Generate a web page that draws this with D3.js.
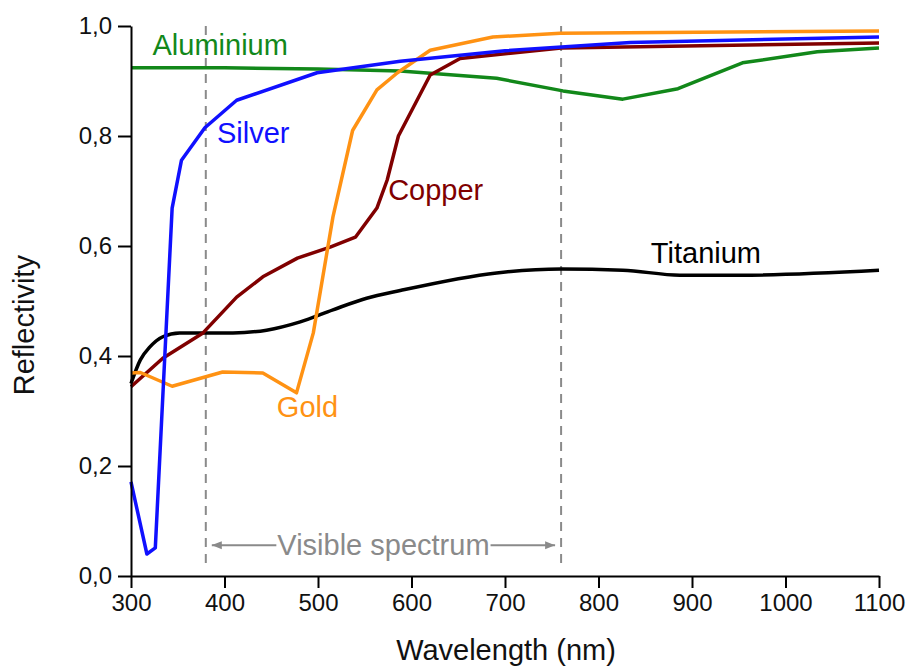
<!DOCTYPE html>
<html>
  <head>
    <title>Reflectivity of metals</title>
    <script src="https://d3js.org/d3.v7.min.js"></script>
    <style>
      body { margin: 0; background: #fff; }
      text { font-family: "Liberation Sans", Arial, sans-serif; }
    </style>
  </head>
  <body>
    <svg id="chart" width="909" height="666"></svg>
  </body>
  <script type="text/javascript">
    // wavelength (nm), reflectivity
    var silver = [[300,0.171],[317,0.04],[326,0.051],[344,0.669],[354,0.756],[379,0.815],[413,0.865],
                  [499,0.915],[588,0.936],[700,0.955],[834,0.97],[1100,0.98]];
    var aluminium = [[300,0.924],[400,0.924],[500,0.922],[588,0.918],[691,0.905],[762,0.882],[826,0.867],
                     [885,0.886],[954,0.933],[1034,0.953],[1100,0.96]];
    var gold = [[300,0.369],[310,0.37],[344,0.345],[398,0.371],[441,0.369],[477,0.333],[495,0.442],
                [516,0.653],[537,0.81],[563,0.884],[585,0.915],[620,0.956],[687,0.98],[759,0.987],[1100,0.991]];
    var copper = [[300,0.344],[334,0.396],[377,0.442],[413,0.507],[441,0.544],[478,0.578],[513,0.598],
                  [540,0.616],[563,0.669],[574,0.72],[586,0.8],[620,0.911],[652,0.941],[760,0.96],[1100,0.969]];
    var titanium = [[300,0.35],[310,0.393],[320,0.416],[334,0.435],[352,0.442],[374,0.442],[409,0.442],
                    [445,0.447],[481,0.462],[516,0.484],[552,0.505],[588,0.519],[691,0.551],[760,0.558],
                    [826,0.556],[887,0.547],[951,0.547],[1100,0.556]];

    var series = [
      {name: "Aluminium", values: aluminium, color: "#12881a", label: [323, 0.947]},
      {name: "Titanium", values: titanium, color: "#000000", label: [856, 0.569], smooth: true},
      {name: "Copper", values: copper, color: "#800000", label: [575, 0.684]},
      {name: "Gold", values: gold, color: "#ff9213", label: [456, 0.289]},
      {name: "Silver", values: silver, color: "#1010ff", label: [392, 0.787]}
    ];
    var visibleRange = [380, 760];

    var svg = d3.select("#chart");
    var x = d3.scaleLinear().domain([300, 1100]).range([131, 879]);
    var y = d3.scaleLinear().domain([0, 1]).range([576, 26]);

    // dashed visible-range lines
    svg.selectAll("line.vis")
      .data(visibleRange)
      .enter().append("line")
        .attr("class", "vis")
        .attr("x1", function(d){ return x(d); })
        .attr("x2", function(d){ return x(d); })
        .attr("y1", y(1))
        .attr("y2", y(0.015))
        .attr("stroke", "#8a8a8a")
        .attr("stroke-width", 2)
        .attr("stroke-dasharray", "9,7");

    // curves
    series.forEach(function(s){
      var line = d3.line()
        .x(function(d){ return x(d[0]); })
        .y(function(d){ return y(d[1]); })
        .curve(s.smooth ? d3.curveMonotoneX : d3.curveLinear);
      svg.append("path")
        .datum(s.values)
        .attr("d", line)
        .attr("fill", "none")
        .attr("stroke", s.color)
        .attr("stroke-width", 3.5)
        .attr("stroke-linejoin", "round");
    });

    svg.selectAll("text.lbl")
      .data(series)
      .enter().append("text")
        .attr("class", "lbl")
        .attr("x", function(d){ return x(d.label[0]); })
        .attr("y", function(d){ return y(d.label[1]); })
        .attr("fill", function(d){ return d.color; })
        .style("font-size", "29px")
        .text(function(d){ return d.name; });

    // visible spectrum arrow
    svg.append("defs").append("marker")
        .attr("id", "arr")
        .attr("viewBox", "0 0 10 10")
        .attr("refX", 10).attr("refY", 5)
        .attr("markerWidth", 5).attr("markerHeight", 5)
        .attr("orient", "auto-start-reverse")
        .attr("markerUnits", "strokeWidth")
      .append("path")
        .attr("d", "M0,1 L10,5 L0,9 Z")
        .attr("fill", "#8a8a8a");

    var arrowY = y(0.056);
    var vtxt = svg.append("text")
        .attr("x", x(570))
        .attr("y", arrowY)
        .attr("dy", "0.35em")
        .attr("text-anchor", "middle")
        .attr("fill", "#8a8a8a")
        .style("font-size", "29px")
        .text("Visible spectrum");
    var bb = vtxt.node().getBBox();
    svg.append("line")
        .attr("x1", bb.x - 1).attr("x2", x(visibleRange[0]) + 6)
        .attr("y1", arrowY).attr("y2", arrowY)
        .attr("stroke", "#8a8a8a").attr("stroke-width", 2)
        .attr("marker-end", "url(#arr)");
    svg.append("line")
        .attr("x1", bb.x + bb.width + 1).attr("x2", x(visibleRange[1]) - 6)
        .attr("y1", arrowY).attr("y2", arrowY)
        .attr("stroke", "#8a8a8a").attr("stroke-width", 2)
        .attr("marker-end", "url(#arr)");

    // axes
    var fmt = function(d){ return d3.format(".1f")(d).replace(".", ","); };

    var gx = svg.append("g").attr("transform", "translate(0," + y(0) + ")");
    gx.call(d3.axisBottom(x).tickValues(d3.range(350, 1100, 100)).tickSize(7).tickFormat(""));
    gx.call(d3.axisBottom(x).tickValues(d3.range(300, 1101, 100)).tickSize(12).tickSizeOuter(0)
        .tickPadding(6).tickFormat(d3.format("d")));

    var gy = svg.append("g").attr("transform", "translate(" + x(300) + ",0)");
    gy.call(d3.axisLeft(y).tickValues(d3.range(0.1, 1, 0.2)).tickSize(8).tickFormat(""));
    gy.call(d3.axisLeft(y).tickValues(d3.range(0, 1.01, 0.2)).tickSize(13).tickSizeOuter(0).tickPadding(6).tickFormat(fmt));

    svg.selectAll(".domain, .tick line").attr("stroke", "#000").attr("stroke-width", 2);
    svg.selectAll(".tick text")
        .attr("fill", "#111")
        .style("font-size", "24px")
        .style("font-family", "'Liberation Sans', Arial, sans-serif");

    svg.append("text")
        .attr("x", (x(300) + x(1100)) / 2 + 1)
        .attr("y", 660)
        .attr("text-anchor", "middle")
        .attr("fill", "#111")
        .style("font-size", "29px")
        .text("Wavelength (nm)");

    svg.append("text")
        .attr("transform", "translate(34," + y(0.456) + ") rotate(-90)")
        .attr("text-anchor", "middle")
        .attr("fill", "#111")
        .style("font-size", "29px")
        .text("Reflectivity");
  </script>
</html>
